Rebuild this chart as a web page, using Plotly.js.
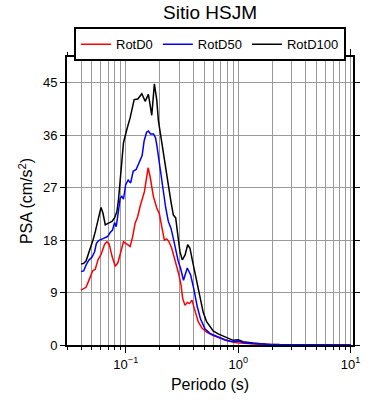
<!DOCTYPE html>
<html>
<head>
<meta charset="utf-8">
<script src="https://cdn.plot.ly/plotly-3.0.1.min.js"></script>
<style>html,body{margin:0;padding:0;background:#fff}#chart{width:390px;height:400px}</style>
</head>
<body>
<div id="chart"></div>
<script>
// ---- data (period in s, PSA in cm/s^2) ----
const periodD0 = [0.040,0.0422,0.0443,0.0461,0.0484,0.0507,0.0535,0.0566,0.0605,0.0648,0.0680,0.0712,0.0753,0.0805,0.0851,0.0892,0.0954,0.1023,0.1094,0.1151,0.1211,0.1275,0.1342,0.1465,0.1580,0.1645,0.1760,0.1887,0.1990,0.2089,0.2204,0.2314,0.2425,0.2563,0.2702,0.2826,0.2974,0.3098,0.3208,0.3363,0.3524,0.3686,0.3879,0.4124,0.4410,0.4756,0.5236,0.5991,0.6869,0.8089,0.9718,1.192,1.554,2.338,3.517,6.486,10.0];
const psaD0    = [9.4,9.6,9.9,10.7,11.6,12.7,13.0,14.6,15.6,17.3,17.7,17.3,15.3,13.5,14.1,15.7,17.7,17.3,16.9,18.6,20.9,22.0,23.8,26.3,30.4,28.9,25.5,23.5,22.5,20.3,18.0,18.2,17.7,16.6,14.9,13.8,12.0,10.3,8.0,6.8,7.3,7.1,7.7,5.9,4.0,2.9,2.2,1.6,1.2,0.7,0.4,0.25,0.12,0.06,0.04,0.02,0.01];

const periodD50 = [0.040,0.0422,0.0443,0.0467,0.0501,0.0528,0.0547,0.0573,0.0634,0.0688,0.0727,0.0762,0.0794,0.0822,0.0851,0.0892,0.0923,0.0954,0.0998,0.1050,0.1105,0.1163,0.1237,0.1315,0.1398,0.1456,0.1532,0.1589,0.1662,0.1767,0.1841,0.1899,0.1978,0.2060,0.2158,0.2267,0.2390,0.2526,0.2648,0.2780,0.2932,0.3067,0.3261,0.3524,0.3777,0.4041,0.4321,0.4631,0.5057,0.5600,0.6421,0.7605,0.9013,1.0,1.144,1.404,1.906,2.867,5.289,10.0];
const psaD50    = [12.6,12.7,13.7,14.5,15.1,16.0,17.4,17.9,18.3,18.6,19.3,19.7,21.0,20.3,22.3,25.2,25.5,25.0,27.5,28.3,27.8,29.8,30.1,31.2,32.5,35.0,36.5,36.7,36.2,36.2,35.5,34.0,31.5,28.6,25.8,23.5,21.2,20.0,18.3,16.3,14.3,13.2,11.1,13.2,12.0,9.5,6.6,4.4,2.8,2.0,1.5,0.9,0.55,0.7,0.35,0.2,0.1,0.06,0.03,0.02];

const periodD100 = [0.040,0.0422,0.0443,0.0467,0.0490,0.0511,0.0535,0.0566,0.0602,0.0627,0.0657,0.0702,0.0753,0.0794,0.0834,0.0862,0.0892,0.0920,0.0954,0.1023,0.1094,0.1187,0.1280,0.1389,0.1486,0.1589,0.1703,0.1796,0.1887,0.1950,0.2060,0.2158,0.2267,0.2390,0.2526,0.2648,0.2780,0.2897,0.3035,0.3182,0.3363,0.3553,0.3724,0.3903,0.4124,0.4270,0.4566,0.4885,0.5236,0.5600,0.5991,0.6636,0.7346,0.8139,0.9013,1.0,1.105,1.356,1.782,2.338,3.517,5.289,10.0];
const psaD100    = [13.9,14.0,14.4,15.7,16.6,18.0,19.4,21.5,23.6,22.6,20.6,20.9,21.2,21.8,22.9,25.0,28.3,31.5,34.7,37.0,39.0,42.1,42.2,43.1,41.8,43.0,39.4,44.8,42.0,38.5,35.5,33.0,30.0,27.0,24.5,22.3,21.8,19.0,16.0,14.6,15.4,17.2,16.6,14.6,12.3,10.6,7.8,5.6,4.0,3.1,2.4,1.9,1.5,1.1,0.8,0.9,0.55,0.35,0.15,0.08,0.05,0.03,0.02];

const seriesNames  = ['RotD0','RotD50','RotD100'];
const seriesColors = ['#ff0000','#0000ff','#000000'];

const xTickVals = [0.1, 1, 10];
const xTickText = ['10<sup>−1</sup>','10<sup>0</sup>','10<sup>1</sup>'];
const yTickVals = [0, 9, 18, 27, 36, 45];
const yTickText = ['0','9','18','27','36','45'];

const titleText  = 'Sitio HSJM';
const xTitleText = 'Periodo (s)';
const yTitleText = 'PSA (cm/s<sup>2</sup>)';

// minor tick positions (2..9 of each decade)
const minorVals = [];
for (let e = -2; e <= 1; e++) for (let m = 2; m <= 9; m++) minorVals.push(m * Math.pow(10, e));

const FONT = 'Liberation Sans, Arial, Helvetica, sans-serif';
const GRID = '#9a9a9a';

const traces = [
  {x: periodD100, y: psaD100, name: seriesNames[2], legendrank: 3, line: {color: seriesColors[2], width: 1.5}},
  {x: periodD0,   y: psaD0,   name: seriesNames[0], legendrank: 1, line: {color: seriesColors[0], width: 1.5}},
  {x: periodD50,  y: psaD50,  name: seriesNames[1], legendrank: 2, line: {color: seriesColors[1], width: 1.5}}
].map(t => Object.assign({type: 'scatter', mode: 'lines', hoverinfo: 'skip'}, t));

const axisCommon = {
  showline: true, linecolor: '#000', linewidth: 2, mirror: 'allticks',
  ticks: 'outside', tickcolor: '#000', tickwidth: 1,
  showgrid: true, gridcolor: GRID, gridwidth: 1, zeroline: false,
  tickfont: {family: FONT, size: 13, color: '#000'}
};

const layout = {
  width: 390, height: 400,
  margin: {l: 67, r: 37, t: 57, b: 55},
  paper_bgcolor: '#fff', plot_bgcolor: '#fff',
  font: {family: FONT, color: '#000'},
  title: {text: titleText, font: {family: FONT, size: 19, color: '#000'}, x: 0.5, xref: 'paper', xanchor: 'center', y: 0.969, yref: 'container', yanchor: 'middle'},
  showlegend: true,
  legend: {orientation: 'h', x: 0.5, xanchor: 'center', y: 1.103, yanchor: 'top',
           bordercolor: '#000', borderwidth: 2, bgcolor: '#fff',
           font: {family: FONT, size: 13, color: '#000'}, traceorder: 'normal'},
  xaxis: Object.assign({}, axisCommon, {
    type: 'log', range: [Math.log10(0.03), Math.log10(10.5)],
    tickmode: 'array', tickvals: xTickVals, ticktext: xTickText, ticklen: 6,
    minor: {tickmode: 'array', tickvals: minorVals, ticks: 'outside', ticklen: 3, tickcolor: '#000', showgrid: true, gridcolor: GRID, gridwidth: 1},
    title: {text: xTitleText, font: {family: FONT, size: 16, color: '#000'}, standoff: 8}
  }),
  yaxis: Object.assign({}, axisCommon, {
    range: [0, 49.4], tickmode: 'array', tickvals: yTickVals, ticktext: yTickText, ticklen: 5,
    title: {text: yTitleText, font: {family: FONT, size: 16, color: '#000'}, standoff: 6}
  })
};

Plotly.newPlot('chart', traces, layout, {staticPlot: true, displayModeBar: false});
</script>
</body>
</html>
